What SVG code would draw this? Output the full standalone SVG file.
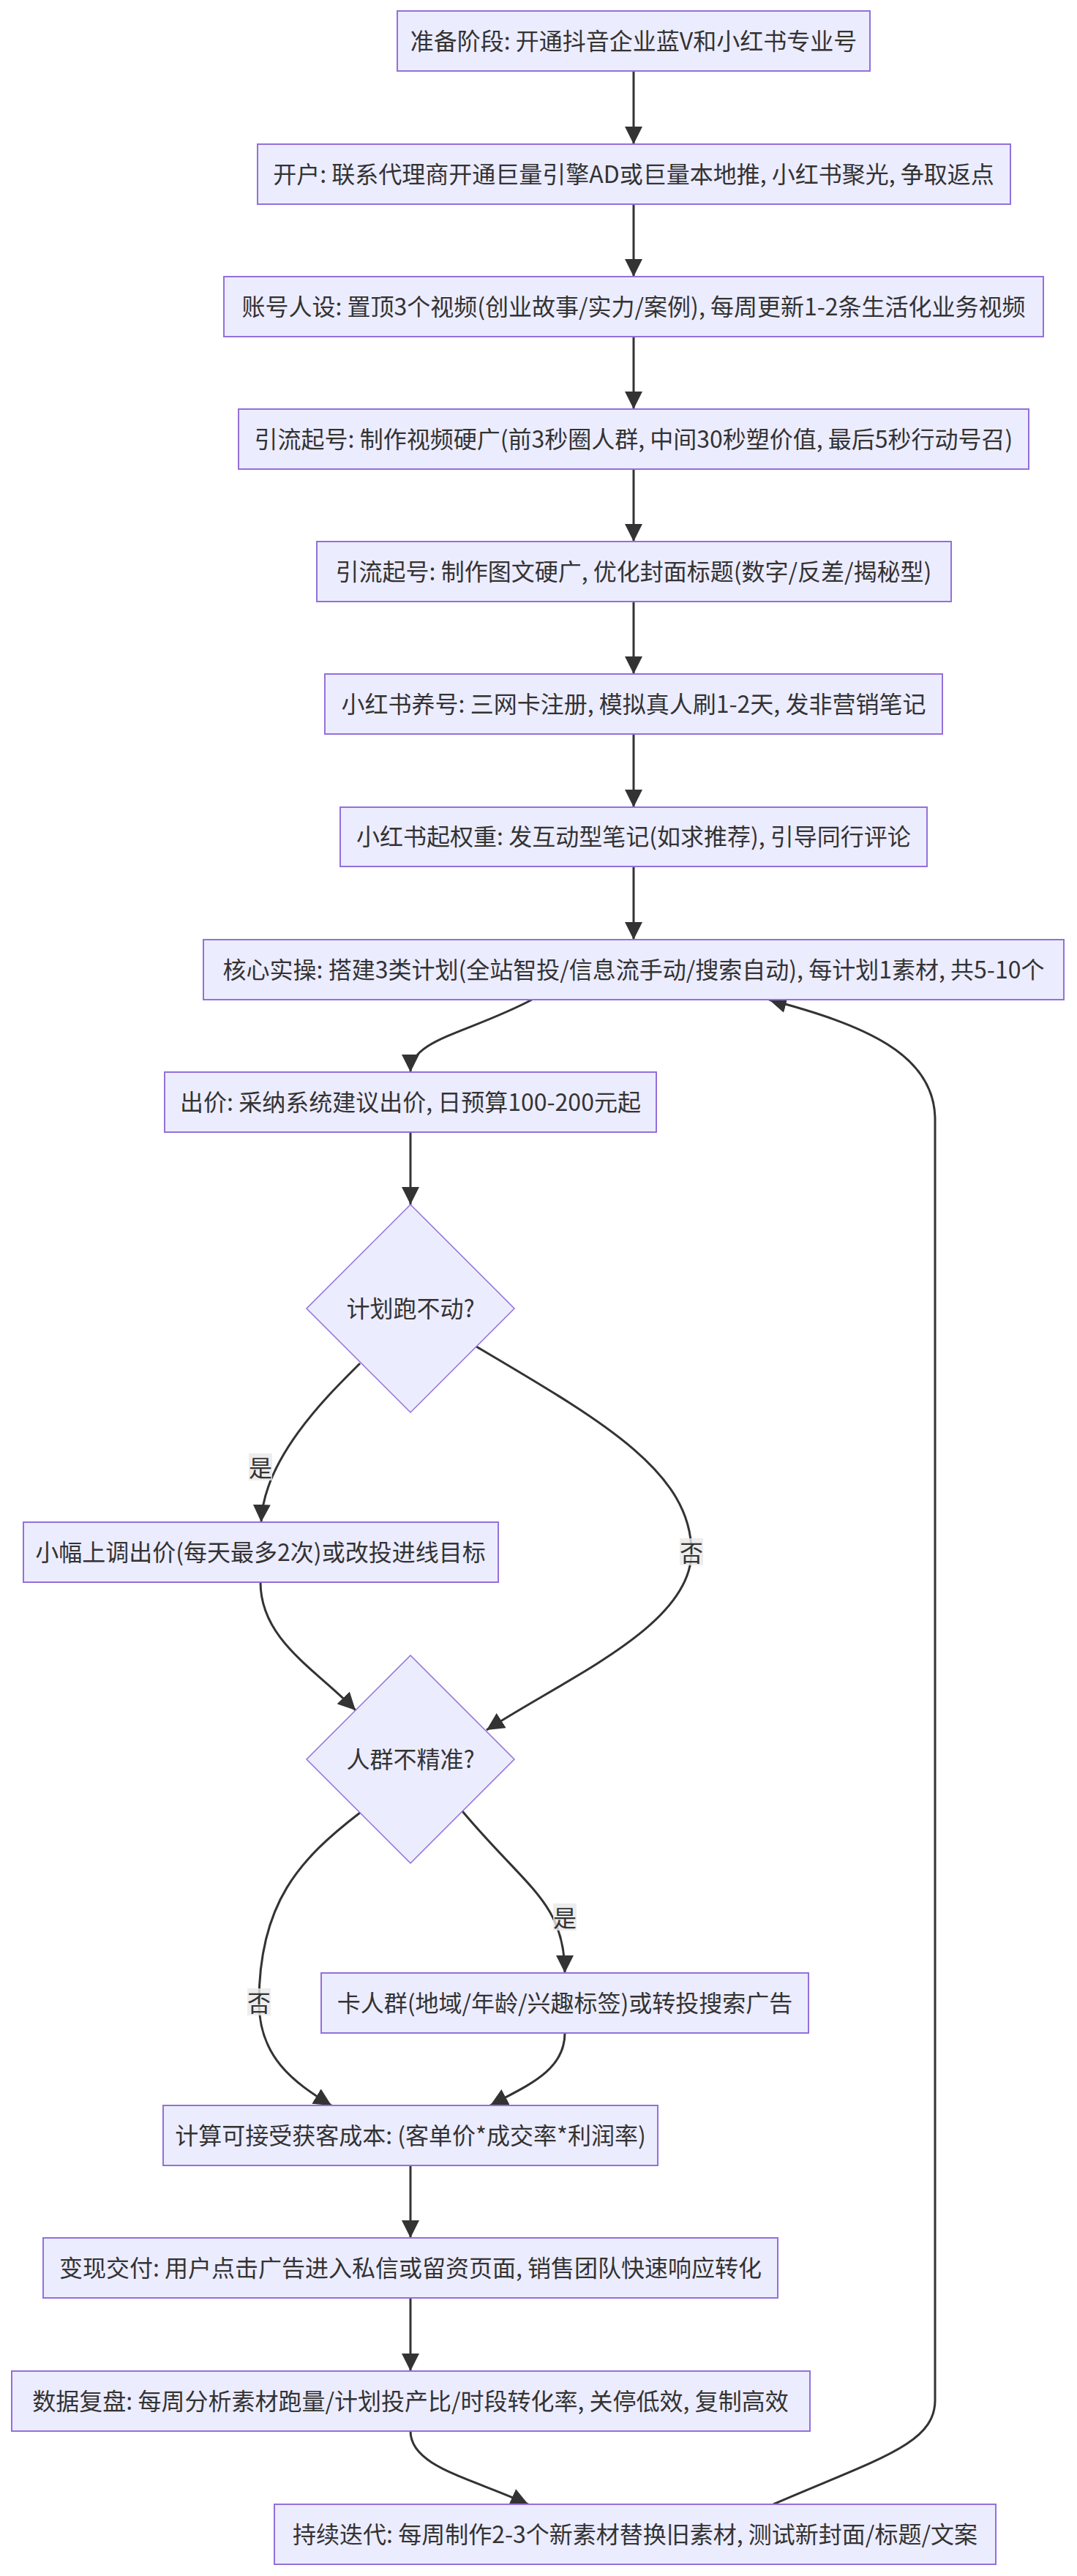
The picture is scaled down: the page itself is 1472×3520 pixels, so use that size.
<svg xmlns="http://www.w3.org/2000/svg" width="1472" height="3520" viewBox="0 0 1472 3520">
<defs>
<style>
.node rect{fill:#ECECFF;stroke:#9370DB;stroke-width:2}
.node polygon{fill:#ECECFF;stroke:#9370DB;stroke-width:1.5}
.t{font-family:"Noto Sans CJK SC","Liberation Sans",sans-serif;font-size:32px;fill:#333333;text-anchor:middle;dominant-baseline:central}
.e{fill:none;stroke:#333333;stroke-width:3}
.lb{fill:#e8e8e8;opacity:0.8}
</style>
<marker id="ah" markerUnits="userSpaceOnUse" markerWidth="24" markerHeight="24" viewBox="0 0 24 24" refX="24" refY="12" orient="auto">
<path d="M0,0 L24,12 L0,24 z" fill="#333333"/>
</marker>
</defs>
<rect width="1472" height="3520" fill="#ffffff"/>
<g id="connectors">
<path class="e" marker-end="url(#ah)" d="M866,97 L866,197"/>
<path class="e" marker-end="url(#ah)" d="M866,279 L866,378"/>
<path class="e" marker-end="url(#ah)" d="M866,460 L866,559"/>
<path class="e" marker-end="url(#ah)" d="M866,641 L866,740"/>
<path class="e" marker-end="url(#ah)" d="M866,822 L866,921"/>
<path class="e" marker-end="url(#ah)" d="M866,1003 L866,1103"/>
<path class="e" marker-end="url(#ah)" d="M866,1184 L866,1284"/>
<path class="e" marker-end="url(#ah)" d="M727,1366 C640,1412 561,1420 561,1465"/>
<path class="e" marker-end="url(#ah)" d="M561,1547 L561,1646"/>
<path class="e" marker-end="url(#ah)" d="M492,1863 C455,1900 360,1990 357,2080"/>
<path class="e" marker-end="url(#ah)" d="M651,1840 C820,1940 945,2010 945,2121 C945,2220 780,2290 665,2364"/>
<path class="e" marker-end="url(#ah)" d="M356,2162 C356,2240 430,2280 486,2337"/>
<path class="e" marker-end="url(#ah)" d="M492,2477 C410,2540 354,2600 354,2736 C354,2810 400,2845 453,2877"/>
<path class="e" marker-end="url(#ah)" d="M632,2475 C720,2580 772,2600 772,2696"/>
<path class="e" marker-end="url(#ah)" d="M772,2778 C772,2830 720,2850 670,2877"/>
<path class="e" marker-end="url(#ah)" d="M561,2959 L561,3058"/>
<path class="e" marker-end="url(#ah)" d="M561,3140 L561,3240"/>
<path class="e" marker-end="url(#ah)" d="M561,3322 C561,3370 640,3385 722,3422"/>
<path class="e" marker-end="url(#ah)" d="M1057,3422 C1200,3360 1278,3340 1278,3280 L1278,1530 C1278,1440 1180,1400 1051,1366"/>
<g id="edge-labels">
<rect class="lb" x="340" y="1986" width="32" height="37"/>
<text class="t" x="356" y="2004">是</text>
<rect class="lb" x="929" y="2102" width="32" height="37"/>
<text class="t" x="945" y="2120">否</text>
<rect class="lb" x="338" y="2717" width="32" height="37"/>
<text class="t" x="354" y="2735">否</text>
<rect class="lb" x="756" y="2601" width="32" height="37"/>
<text class="t" x="772" y="2619">是</text>
</g>
</g>
<g id="n1" class="node"><rect x="543" y="15" width="646" height="82"/><text class="t" x="866" y="54">准备阶段: 开通抖音企业蓝V和小红书专业号</text></g>
<g id="n2" class="node"><rect x="352" y="197" width="1029" height="82"/><text class="t" x="866" y="236">开户: 联系代理商开通巨量引擎AD或巨量本地推, 小红书聚光, 争取返点</text></g>
<g id="n3" class="node"><rect x="306" y="378" width="1120" height="82"/><text class="t" x="866" y="417">账号人设: 置顶3个视频(创业故事/实力/案例), 每周更新1-2条生活化业务视频</text></g>
<g id="n4" class="node"><rect x="326" y="559" width="1080" height="82"/><text class="t" x="866" y="598">引流起号: 制作视频硬广(前3秒圈人群, 中间30秒塑价值, 最后5秒行动号召)</text></g>
<g id="n5" class="node"><rect x="433" y="740" width="867" height="82"/><text class="t" x="866" y="779">引流起号: 制作图文硬广, 优化封面标题(数字/反差/揭秘型)</text></g>
<g id="n6" class="node"><rect x="444" y="921" width="844" height="82"/><text class="t" x="866" y="960">小红书养号: 三网卡注册, 模拟真人刷1-2天, 发非营销笔记</text></g>
<g id="n7" class="node"><rect x="465" y="1103" width="802" height="81"/><text class="t" x="866" y="1141">小红书起权重: 发互动型笔记(如求推荐), 引导同行评论</text></g>
<g id="n8" class="node"><rect x="278" y="1284" width="1176" height="82"/><text class="t" x="866" y="1323">核心实操: 搭建3类计划(全站智投/信息流手动/搜索自动), 每计划1素材, 共5-10个</text></g>
<g id="n9" class="node"><rect x="225" y="1465" width="672" height="82"/><text class="t" x="561" y="1504">出价: 采纳系统建议出价, 日预算100-200元起</text></g>
<g id="n10" class="node"><polygon points="561,1646 703,1788 561,1930 419,1788"/><text class="t" x="561" y="1786">计划跑不动?</text></g>
<g id="n11" class="node"><rect x="32" y="2080" width="649" height="82"/><text class="t" x="356" y="2119">小幅上调出价(每天最多2次)或改投进线目标</text></g>
<g id="n12" class="node"><polygon points="561,2262 703,2404 561,2546 419,2404"/><text class="t" x="561" y="2402">人群不精准?</text></g>
<g id="n13" class="node"><rect x="439" y="2696" width="666" height="82"/><text class="t" x="772" y="2735">卡人群(地域/年龄/兴趣标签)或转投搜索广告</text></g>
<g id="n14" class="node"><rect x="223" y="2877" width="676" height="82"/><text class="t" x="561" y="2916">计算可接受获客成本: (客单价*成交率*利润率)</text></g>
<g id="n15" class="node"><rect x="59" y="3058" width="1004" height="82"/><text class="t" x="561" y="3097">变现交付: 用户点击广告进入私信或留资页面, 销售团队快速响应转化</text></g>
<g id="n16" class="node"><rect x="16" y="3240" width="1091" height="82"/><text class="t" x="561" y="3279">数据复盘: 每周分析素材跑量/计划投产比/时段转化率, 关停低效, 复制高效</text></g>
<g id="n17" class="node"><rect x="375" y="3422" width="986" height="82"/><text class="t" x="868" y="3461">持续迭代: 每周制作2-3个新素材替换旧素材, 测试新封面/标题/文案</text></g>
</svg>
